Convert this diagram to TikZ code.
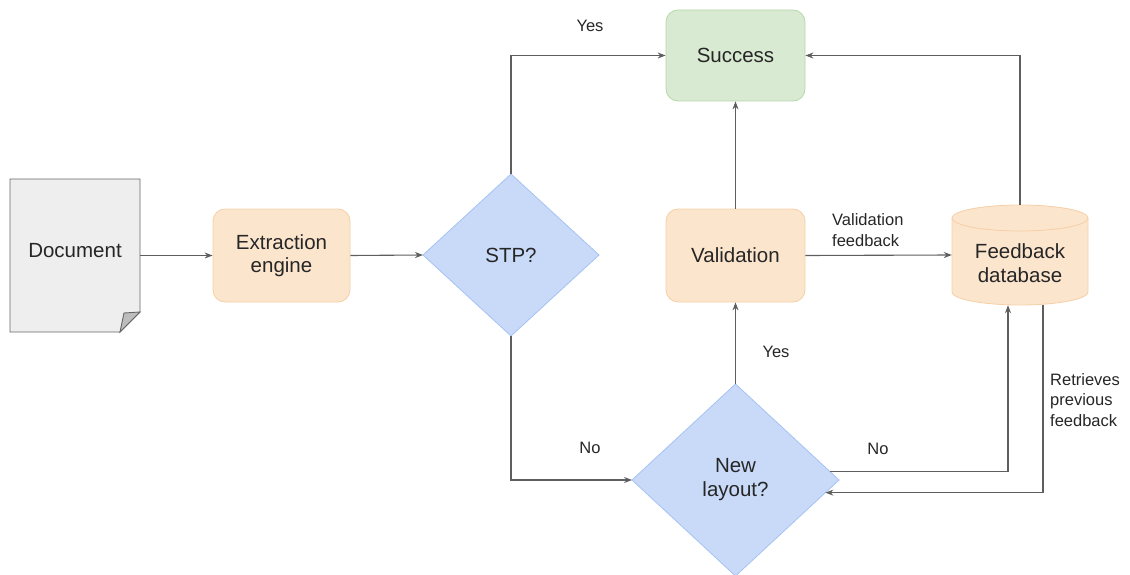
\documentclass[tikz,border=0pt]{standalone}
\usepackage{fontspec}
\setmainfont{Liberation Sans}
\usetikzlibrary{shapes.geometric, arrows.meta}
\definecolor{peach-fill}{HTML}{FCE5CD}
\definecolor{peach-line}{HTML}{F6CFA6}
\definecolor{green-fill}{HTML}{D9EAD3}
\definecolor{green-line}{HTML}{B6D7A8}
\definecolor{blue-fill}{HTML}{C9DAF8}
\definecolor{blue-line}{HTML}{A4C2F4}
\definecolor{doc-fill}{HTML}{EEEEEE}
\definecolor{doc-line}{HTML}{666666}
\definecolor{fold-fill}{HTML}{BDBDBD}
\definecolor{link-gray}{HTML}{5E5E5E}
\definecolor{ink}{HTML}{262626}

\begin{document}
\begin{tikzpicture}[x=1pt, y=-1pt,
    every node/.style={font=\fontsize{20.5}{23.5}\selectfont, text=ink},
    procbox/.style={draw=peach-line, fill=peach-fill, rounded corners=12pt,
          minimum width=137pt, minimum height=93pt, align=center, line width=0.8pt},
    decision/.style={diamond, draw=blue-line, fill=blue-fill, align=center,
          inner sep=0pt, outer sep=0pt, line width=0.8pt},
    edgelabel/.style={font=\fontsize{16.5}{20.5}\selectfont, align=left, inner sep=0pt},
    link/.style={-{Stealth[length=8pt, width=6pt]}, draw=link-gray, line width=1.1pt}]
  \useasboundingbox (0,0) rectangle (1130,575);
  \filldraw[draw=doc-line, fill=doc-fill, line width=0.9pt]
        (10,179) -- (140,179) -- (140,312) -- (120,332) -- (10,332) -- cycle;
  \filldraw[draw=doc-line, fill=fold-fill, line width=0.9pt]
        (120,332) .. controls (122,322) .. (124,313) -- (140,312) -- cycle;
  \node[minimum width=130pt, minimum height=153pt, inner sep=0pt]
        (doc) at (75,255.5) {\raisebox{10pt}{Document}};
  \node[procbox] (ext) at (281.5,255.5) {Extraction\\engine};
  \node[decision, minimum width=176pt, minimum height=162pt]
        (stp) at (511,255) {\raisebox{-4pt}{STP?}};
  \node[procbox, draw=green-line, fill=green-fill, minimum width=139pt, minimum height=91pt]
        (succ) at (735.5,55.5) {Success};
  \node[procbox, minimum width=139pt] (val) at (735.5,255.5) {Validation};
  \node[decision, minimum width=207pt, minimum height=192pt]
        (newl) at (735.5,480) {\raisebox{5pt}{\begin{tabular}{@{}c@{}}New\\layout?\end{tabular}}};
  \filldraw[draw=peach-line, fill=peach-fill, line width=0.8pt]
        (952,218) -- (952,292) arc[start angle=180, end angle=360, x radius=68pt, y radius=13pt]
        -- (1088,218) arc[start angle=0, end angle=180, x radius=68pt, y radius=13pt] -- cycle;
  \draw[draw=peach-line, line width=0.8pt]
        (952,218) arc[start angle=180, end angle=360, x radius=68pt, y radius=13pt];
  \node[minimum width=136pt, minimum height=100pt, inner sep=0pt] (fb) at (1020,255) {};
  \node[align=center] (fbtext) at (1020,263) {Feedback\\database};
  \draw[link] (doc.east) -- (ext.west);
  \draw[link] (ext.east) -- (stp.west);
  \draw[link] (stp.north) |- (succ.west);
  \draw[link] (stp.south) |- (newl.west);
  \draw[link] (val.north) -- (succ.south);
  \draw[link] (val.east) -- (fb.west);
  \draw[link] (fb.north) |- (succ.east);
  \draw[link] (newl.north) -- (val.south);
  \draw[link] (newl.5) -| ([xshift=-12pt]fb.south);
  \draw[link] ([xshift=23pt]fb.south) |- (newl.-8);
  \node[edgelabel] (yes-top) at (590,26) {Yes};
  \node[edgelabel] (no-left) at (590,448) {No};
  \node[edgelabel] (yes-mid) at (776,352) {Yes};
  \node[edgelabel] (no-right) at (878,449) {No};
  \node[edgelabel, anchor=west] (val-note) at (832,230) {Validation\\feedback};
  \node[edgelabel, anchor=west] (retrieve-note) at (1050,400) {Retrieves\\previous\\feedback};
\end{tikzpicture}
\end{document}
